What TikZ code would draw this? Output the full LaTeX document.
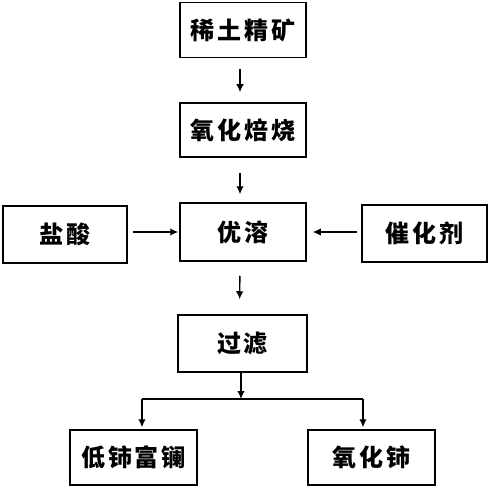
\documentclass[tikz,border=0pt]{standalone}
\usepackage{fontspec}
\newfontfamily\cjk[LetterSpace=12]{Noto Sans CJK SC}
\usetikzlibrary{arrows.meta}
\begin{document}
\begin{tikzpicture}[x=1pt,y=-1pt,
  box/.style={draw,line width=1.5pt,inner sep=0pt,font=\cjk\bfseries\fontsize{24}{24}\selectfont},
  arr/.style={line width=1.4pt,-{Latex[length=8pt,width=7.5pt]}},
  ln/.style={line width=1.4pt}]
\useasboundingbox (0,0) rectangle (489,500);
\node[box,minimum width=126pt,minimum height=55pt] (A) at (243,30) {稀土精矿};
\node[box,minimum width=126pt,minimum height=54pt] (B) at (243,130) {氧化焙烧};
\node[box,minimum width=126pt,minimum height=58pt] (C) at (243,232) {优溶};
\node[box,minimum width=124pt,minimum height=57pt] (L) at (65,234.5) {盐酸};
\node[box,minimum width=125pt,minimum height=57pt] (R) at (424.5,233.5) {催化剂};
\node[box,minimum width=129pt,minimum height=57pt] (D) at (242.5,343.5) {过滤};
\node[box,minimum width=127pt,minimum height=55pt] (E) at (133.5,457.5) {低铈富镧};
\node[box,minimum width=127pt,minimum height=55pt] (F) at (371.5,457.5) {氧化铈};
\draw[arr,shorten <=11pt,shorten >=10pt] ([xshift=-3pt]A.south) -- ([xshift=-3pt]B.north);
\draw[arr,shorten <=15pt,shorten >=8pt] ([xshift=-3pt]B.south) -- ([xshift=-3pt]C.north);
\draw[arr,shorten <=14pt,shorten >=15pt] ([xshift=-3pt]C.south) -- ([xshift=-3pt]D.north);
\draw[arr,shorten <=5pt,shorten >=1pt] (L.east |- C.west) -- (C.west);
\draw[arr,shorten <=4pt,shorten >=6pt] (R.west |- C.east) -- (C.east);
\coordinate (J) at (241,399);
\coordinate (JL) at (142,399);
\coordinate (JR) at (363,399);
\draw[arr] (D.south -| J) -- (J);
\draw[ln] (JL) -- (JR);
\draw[arr,shorten >=2pt] (JL) -- (JL |- E.north);
\draw[arr,shorten >=2pt] (JR) -- (JR |- F.north);
\end{tikzpicture}
\end{document}
